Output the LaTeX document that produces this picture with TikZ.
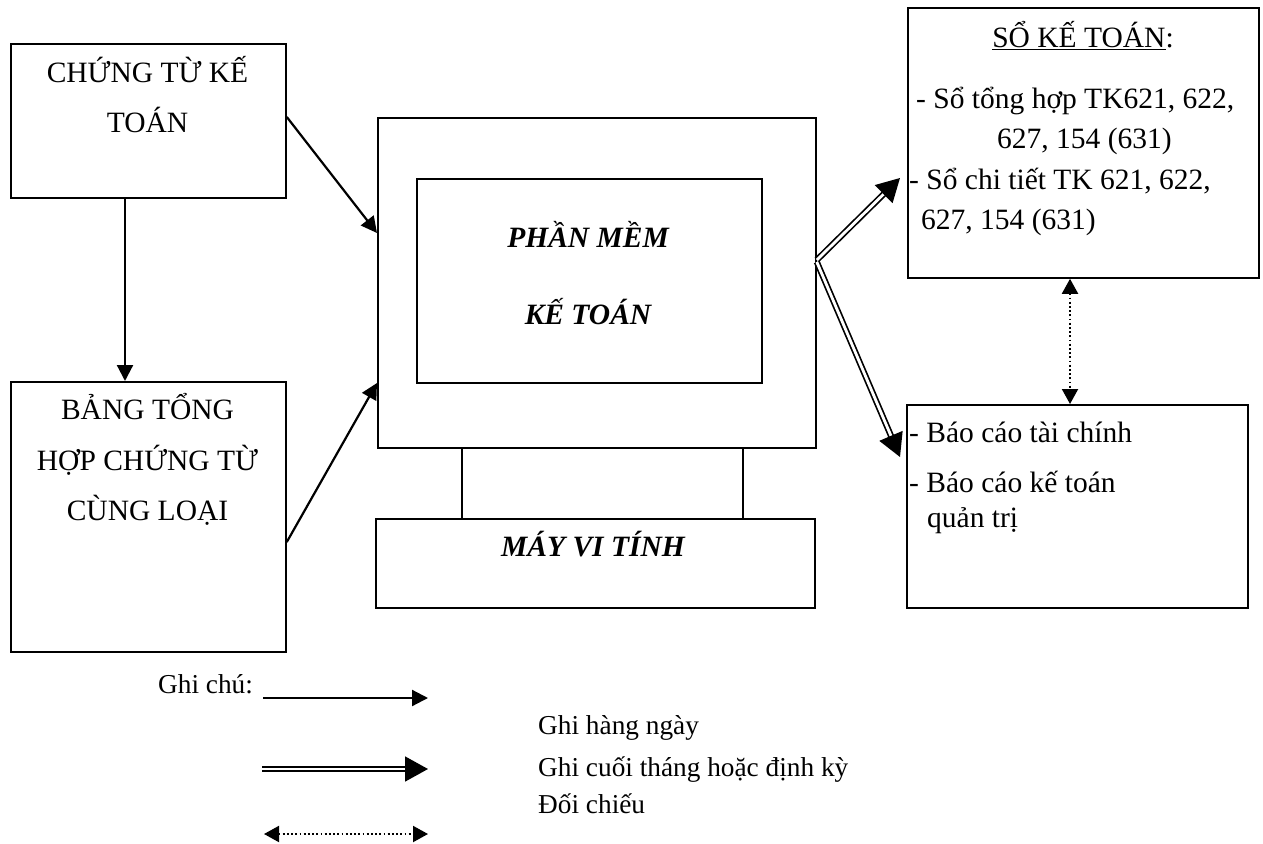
\documentclass[tikz,border=0pt]{standalone}
\usepackage{fontspec}
\setmainfont{Liberation Serif}
\usetikzlibrary{arrows.meta,calc}
\begin{document}
\begin{tikzpicture}[x=1pt,y=-1pt,
  box/.style={draw, line width=1.8pt, inner sep=0pt, anchor=north west},
  txt/.style={inner sep=0pt, font=\fontsize{29.5}{36}\selectfont},
  note/.style={inner sep=0pt, font=\fontsize{27.3}{33}\selectfont},
  soft/.style={txt, font=\fontsize{29.5}{36}\selectfont\bfseries\itshape},
  daily/.style={line width=2.2pt, -{Triangle[length=16pt,width=16pt]}},
  periodic/.style={double, double distance=2.8pt, line width=1.7pt,
    -{Triangle[length=23pt,width=25pt]}},
  compare/.style={line width=2pt, dash pattern=on 1.8pt off 2.4pt,
    {Triangle[length=15pt,width=16pt]}-{Triangle[length=15pt,width=16pt]}},
]
\useasboundingbox (0,0) rectangle (1263,843);

% source documents
\node[box, minimum width=275pt, minimum height=154pt] (ct) at (10,43) {};
\node[txt, anchor=base] (ct1) at (147.5,82) {CHỨNG TỪ KẾ};
\node[txt, anchor=base] (ct2) at (147.5,132) {TOÁN};

\node[box, minimum width=275pt, minimum height=270pt] (bth) at (10,381) {};
\node[txt, anchor=base] (bth1) at (147.5,419) {BẢNG TỔNG};
\node[txt, anchor=base] (bth2) at (147.5,470) {HỢP CHỨNG TỪ};
\node[txt, anchor=base] (bth3) at (147.5,520) {CÙNG LOẠI};

% computer: monitor, stand and base
\node[box, minimum width=438pt, minimum height=330pt] (mon) at (377,117) {};
\node[box, minimum width=345pt, minimum height=204pt] (pm) at (416,178) {};
\node[soft, anchor=base] (pm1) at (588,247) {PHẦN MỀM};
\node[soft, anchor=base] (pm2) at (588,324) {KẾ TOÁN};
\node[box, minimum width=439pt, minimum height=89pt] (mvt) at (375,518) {};
\node[soft, anchor=base] (mvt1) at (593,556) {MÁY VI TÍNH};
\draw[line width=1.6pt] ($(mon.south west)+(85,0)$) -- ($(mvt.north west)+(87,0)$);
\draw[line width=1.6pt] ($(mon.south west)+(366,0)$) -- ($(mvt.north west)+(368,0)$);

% ledgers
\node[box, minimum width=351pt, minimum height=270pt] (skt) at (907,7) {};
\node[txt, anchor=base] (skt0) at (1083,48) {\underline{SỔ KẾ TOÁN}:};
\node[txt, anchor=base west] (skt1) at (916,108) {- Sổ tổng hợp TK621, 622,};
\node[txt, anchor=base west] (skt2) at (997,148) {627, 154 (631)};
\node[txt, anchor=base west] (skt3) at (909,189) {- Sổ chi tiết TK 621, 622,};
\node[txt, anchor=base west] (skt4) at (921,229) {627, 154 (631)};

% reports
\node[box, minimum width=341pt, minimum height=203pt] (bc) at (906,404) {};
\node[txt, anchor=base west] (bc1) at (909,442) {- Báo cáo tài chính};
\node[txt, anchor=base west] (bc2) at (909,492) {- Báo cáo kế toán};
\node[txt, anchor=base west] (bc3) at (927,527) {quản trị};

% flows
\draw[daily] ($(ct.south west)+(115,0)$) -- ($(bth.north west)+(115,0)$);
\draw[daily] ($(ct.north east)+(0,74)$) -- ($(mon.north west)+(0,116)$);
\draw[daily] ($(bth.north east)+(0,161)$) -- ($(mon.north west)+(0,266)$);
\draw[periodic] ($(mon.north east)+(0,143)$) -- ($(skt.north west)+(-7,171)$);
\draw[periodic] ($(mon.north east)+(0,145)$) -- ($(bc.north west)+(-6,53)$);
\draw[compare] ($(skt.south west)+(163,0)$) -- ($(bc.north west)+(164,0)$);

% legend
\node[note, anchor=base west] (gc) at (158,693) {Ghi chú:};
\coordinate (la1) at (263,698);  \coordinate (lb1) at (428,698);
\coordinate (la2) at (262,769);  \coordinate (lb2) at (428,769);
\coordinate (la3) at (264,834);  \coordinate (lb3) at (428,834);
\draw[daily] (la1) -- (lb1);
\draw[periodic] (la2) -- (lb2);
\draw[compare] (la3) -- (lb3);
\node[note, anchor=base west] (lg1) at (538,734) {Ghi hàng ngày};
\node[note, anchor=base west] (lg2) at (538,776) {Ghi cuối tháng hoặc định kỳ};
\node[note, anchor=base west] (lg3) at (538,813) {Đối chiếu};
\end{tikzpicture}
\end{document}
